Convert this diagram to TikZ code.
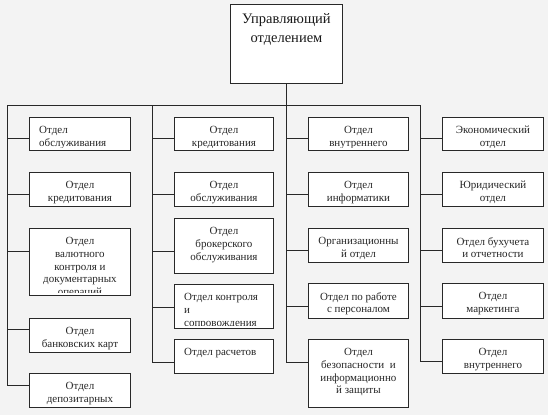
\documentclass[tikz,border=0pt]{standalone}
\usepackage{fontspec}
\setmainfont{Liberation Serif}
\definecolor{bgc}{RGB}{243,243,243}
\definecolor{lnc}{RGB}{40,40,40}
\tikzset{
  boxst/.style={draw=lnc, fill=white, line width=0.9pt, rectangle, inner sep=0pt, anchor=north west},
  txtst/.style={inner sep=0pt, text=black!85, font=\fontsize{11}{12.8}\selectfont},
  topst/.style={inner sep=0pt, text=black!90, font=\fontsize{14.5}{19}\selectfont},
  wire/.style={draw=lnc, line width=0.9pt},
}
% name, x1, y1, x2, y2, text (centred)
\newcommand\dboxc[6]{%
  \node[boxst, minimum width={#4pt-#2pt}, minimum height={#5pt-#3pt}] (#1) at (#2,#3) {};
  \begin{scope}
    \clip (#1.north west) rectangle ([yshift=3pt]#1.south east);
    \node[txtst, align=center, anchor=north] (#1t) at ([yshift=-9pt]#1.north) {#6};
  \end{scope}}
% name, x1, y1, x2, y2, text (left)
\newcommand\dboxl[6]{%
  \node[boxst, minimum width={#4pt-#2pt}, minimum height={#5pt-#3pt}] (#1) at (#2,#3) {};
  \begin{scope}
    \clip (#1.north west) rectangle ([yshift=3pt]#1.south east);
    \node[txtst, align=left, anchor=north west] (#1t) at ([xshift=10pt,yshift=-9pt]#1.north west) {#6};
  \end{scope}}
\begin{document}
\begin{tikzpicture}[x=1pt,y=-1pt]
\fill[bgc] (0,0) rectangle (548,415);
\useasboundingbox (0,0) rectangle (548,415);

% top box
\node[boxst, minimum width=112pt, minimum height=79pt] (top) at (230,4) {};
\node[topst, align=center, anchor=north] (topt) at ([yshift=-9pt]top.north) {Управляющий\\отделением};

% bus coordinates
\coordinate (busL) at (7,105);
\coordinate (busA) at (152,105);
\coordinate (busM) at (286,105);
\coordinate (busR) at (420,105);

% column 1
\dboxl{b11}{29}{117}{130}{150}{Отдел\\обслуживания}
\dboxc{b12}{29}{172}{130}{206}{Отдел\\кредитования}
\dboxc{b13}{29}{228}{130}{295}{Отдел\\валютного\\контроля и\\документарных\\операций}
\dboxc{b14}{29}{318}{130}{352}{Отдел\\банковских карт}
\dboxc{b15}{29}{373}{130}{407}{Отдел\\депозитарных}

% column 2
\dboxc{b21}{174}{117}{273}{150}{Отдел\\кредитования}
\dboxc{b22}{174}{172}{273}{206}{Отдел\\обслуживания}
\dboxc{b23}{174}{218}{273}{273}{Отдел\\брокерского\\обслуживания}
\dboxl{b24}{174}{284}{273}{328}{Отдел контроля\\и\\сопровождения}
\dboxl{b25}{174}{339}{273}{373}{Отдел расчетов}

% column 3
\dboxc{b31}{308}{117}{408}{150}{Отдел\\внутреннего}
\dboxc{b32}{308}{172}{408}{206}{Отдел\\информатики}
\dboxc{b33}{308}{228}{408}{262}{Организационны\\й отдел}
\dboxc{b34}{308}{283}{408}{318}{Отдел по работе\\с персоналом}
\dboxc{b35}{308}{339}{408}{407}{Отдел\\безопасности\ \ и\\информационно\\й защиты}

% column 4
\dboxc{b41}{442}{117}{543}{150}{Экономический\\отдел}
\dboxc{b42}{442}{172}{543}{206}{Юридический\\отдел}
\dboxc{b43}{442}{228}{543}{262}{Отдел бухучета\\и отчетности}
\dboxc{b44}{442}{283}{543}{318}{Отдел\\маркетинга}
\dboxc{b45}{442}{339}{543}{373}{Отдел\\внутреннего}

% connector points on the column buses
\coordinate (c11) at (7,138);  \coordinate (c12) at (7,194);  \coordinate (c13) at (7,251);  \coordinate (c14) at (7,329);  \coordinate (c15) at (7,385);
\coordinate (c21) at (152,138); \coordinate (c22) at (152,194); \coordinate (c23) at (152,251); \coordinate (c24) at (152,307); \coordinate (c25) at (152,362);
\coordinate (c31) at (286,138); \coordinate (c32) at (286,194); \coordinate (c33) at (286,250); \coordinate (c34) at (286,306); \coordinate (c35) at (286,362);
\coordinate (c41) at (420,138); \coordinate (c42) at (420,194); \coordinate (c43) at (420,250); \coordinate (c44) at (420,306); \coordinate (c45) at (420,361);

% wiring
\draw[wire] (top.south -| busM) -- (busM);
\draw[wire] (busL) -- (busR);
\draw[wire] (busL) -- (c15);
\draw[wire] (busA) -- (c25);
\draw[wire] (busM) -- (c35);
\draw[wire] (busR) -- (c45);
\foreach \c in {1,...,4}{
  \foreach \r in {1,...,5}{
    \draw[wire] (c\c\r) -- (c\c\r -| b\c\r.west);
  }
}
\end{tikzpicture}
\end{document}
